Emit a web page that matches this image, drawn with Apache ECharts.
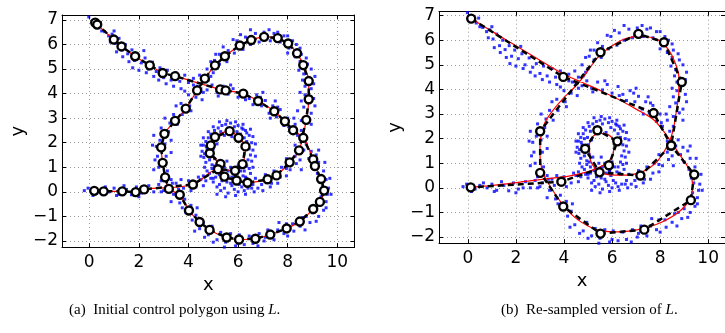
<!DOCTYPE html>
<html>
<head>
<meta charset="utf-8">
<script src="https://cdn.jsdelivr.net/npm/echarts@6/dist/echarts.min.js"></script>
<style>
html,body{margin:0;padding:0;background:#fff;}
#chart{width:725px;height:333px;}
</style>
</head>
<body>
<div id="chart"></div>
<script>
// ---------- data ----------
const xTicks = [0, 2, 4, 6, 8, 10];
const yTicks = [-2, -1, 0, 1, 2, 3, 4, 5, 6, 7];

// noisy samples L (shared by both panels)
const samplesL = [
[-0.02,7.12],[0.12,6.95],[0.35,6.7],[0.45,6.9],[0.62,6.52],[0.78,6.35],[0.92,6.42],[1.05,6.05],[1.2,6.25],[1.32,5.78],
[1.45,6.0],[1.55,5.62],[1.72,5.78],[1.82,5.35],[1.95,5.6],[2.1,5.25],[2.25,5.45],[2.38,5.0],[2.55,5.28],[2.7,4.9],
[2.85,5.05],[3.0,4.65],[3.15,4.95],[3.3,4.55],[3.5,4.85],[3.65,4.5],[3.85,4.75],[4.0,4.45],[4.2,4.62],[4.35,4.3],
[4.6,4.5],[4.75,4.15],[4.95,4.35],[5.15,4.05],[5.4,4.3],[5.6,3.98],[5.8,4.2],[6.0,3.85],[6.25,4.12],[6.45,3.8],
[6.6,3.55],[6.75,3.95],[6.95,3.5],[7.1,3.72],[7.25,3.2],[7.4,3.5],[7.55,3.05],[7.7,3.35],[7.85,2.7],[8.0,3.0],
[8.1,2.5],[8.3,2.75],[8.4,2.3],[8.55,2.5],[8.75,1.95],[8.95,1.65],[8.85,1.35],[9.15,1.5],[9.0,1.05],[9.25,1.2],
[9.2,0.75],[9.45,0.85],[9.3,0.4],[9.55,0.5],[9.4,0.2],[9.65,0.15],[9.6,-0.1],[9.35,-0.2],[9.55,-0.4],[9.2,-0.55],
[9.45,-0.75],[9.0,-0.85],[9.25,-1.0],[8.75,-1.0],[8.9,-1.25],[8.5,-1.4],[8.6,-1.05],[8.2,-1.3],[8.25,-1.6],[7.95,-1.3],
[7.85,-1.7],[7.6,-1.55],[7.45,-1.95],[7.2,-1.55],[7.05,-2.0],[6.85,-1.7],[6.6,-2.1],[6.45,-1.8],[6.25,-2.15],[6.05,-1.75],
[5.9,-2.2],[5.7,-1.7],[5.5,-2.05],[5.3,-1.65],[5.15,-1.95],[4.95,-1.4],[4.8,-1.75],[4.6,-1.25],[4.45,-1.5],[4.3,-0.95],
[4.15,-1.15],[4.1,-0.55],[3.9,-0.85],[3.85,-0.3],[3.65,-0.45],[3.6,0.1],[3.4,-0.1],[3.35,0.35],[3.1,0.2],[3.15,0.85],
[2.9,0.45],[3.1,1.45],[2.8,1.0],[3.05,1.95],[2.75,1.45],[2.85,2.1],[2.7,1.85],[3.2,2.45],[2.9,2.6],[3.25,2.8],
[3.55,2.75],[3.4,3.15],[3.75,3.15],[3.7,3.6],[4.05,3.5],[4.0,3.95],[4.3,3.85],[4.2,4.35],[4.5,4.2],[4.45,4.75],
[4.8,4.55],[4.75,5.0],[5.0,4.85],[4.9,5.3],[5.25,5.2],[5.25,5.6],[5.55,5.3],[5.6,5.75],[5.85,5.65],[5.95,6.15],
[6.2,5.8],[6.3,6.3],[6.5,6.0],[6.7,6.45],[6.85,6.1],[7.05,6.5],[7.3,6.15],[7.45,6.45],[7.7,6.1],[7.85,6.35],
[8.05,5.85],[8.2,6.15],[8.3,5.5],[8.5,5.85],[8.5,5.3],[8.75,5.45],[8.65,4.8],[8.95,5.0],[8.7,4.3],[9.05,4.4],
[8.7,3.95],[9.05,3.8],[8.65,3.45],[8.95,3.2],[8.55,2.9],[8.95,2.75],[8.3,1.9],[8.65,1.7],[8.3,1.45],[8.35,1.15],
[7.95,1.35],[7.95,0.95],[7.75,1.0],[7.7,0.6],[7.45,0.85],[7.35,0.35],[7.1,0.7],[6.95,0.3],[6.7,0.55],[6.55,0.15],
[6.3,0.6],[6.15,0.2],[6.0,0.0],[5.9,0.65],[5.75,0.25],[5.55,0.4],[5.6,0.85],[5.35,0.45],[5.25,0.7],[5.05,1.05],
[5.1,0.6],[-0.2,0.05],[-0.05,0.15],[0.3,-0.05],[0.5,0.1],[0.8,0.0],[1.0,0.15],[1.2,-0.1],[1.5,0.1],[1.7,-0.12],
[1.9,0.2],[2.1,-0.05],[2.4,0.25],[2.6,0.0],[2.8,0.3],[3.0,0.05],[3.5,0.35],[3.8,0.15],[4.0,0.45],[4.3,0.2],
[4.5,0.5],[4.7,0.45],[4.85,0.75],[5.0,0.55],[4.55,1.65],[4.6,1.9],[4.62,1.4],[4.7,2.05],[4.7,1.2],[4.75,1.75],
[4.78,1.5],[4.8,2.2],[4.85,1.3],[4.9,2.35],[4.95,1.1],[4.98,2.05],[5.0,1.75],[5.05,2.5],[5.1,2.3],[5.15,1.95],
[5.2,2.6],[5.3,2.45],[5.35,2.7],[5.45,2.3],[5.5,2.75],[5.6,2.6],[5.7,2.8],[5.75,2.25],[5.85,2.65],[5.95,2.45],
[6.0,2.7],[6.1,2.35],[6.15,2.6],[6.25,2.2],[6.3,2.5],[6.35,2.05],[6.45,2.3],[6.45,1.75],[6.55,2.0],[6.5,1.5],
[6.6,1.7],[6.4,1.3],[6.55,1.25],[6.35,1.05],[6.45,0.95],[6.1,0.85],[6.2,0.65],[5.9,0.7],[6.0,1.05],[5.7,1.0],
[5.55,1.25],[5.75,0.6],[5.45,1.0],[5.3,0.8],[5.2,1.25],[5.1,0.85],[5.05,1.35],[4.95,0.95],[5.0,0.4],[5.15,0.2],
[5.3,0.05],[5.45,0.15],[5.6,-0.05],[5.7,0.35],[5.85,0.1],[6.05,0.3],[6.25,0.05],[6.4,0.15],[6.6,0.3],[6.35,0.55],
[5.55,0.55],[5.25,0.3],[4.9,0.55],[5.95,0.5],[6.8,0.15],[4.65,1.55],[4.72,1.85],[4.85,2.0],[6.35,2.4],[6.2,2.55],
[0.5,6.55],[0.85,6.1],[1.1,5.7],[1.35,5.5],[1.6,5.3],[1.75,5.05],[2.0,4.95],[2.3,4.85],[2.6,4.7],[2.8,4.55],
[3.1,4.4],[3.4,4.3],[3.7,4.2],[2.2,5.75],[1.0,6.55],[5.1,5.6],[5.4,5.9],[5.8,6.2],[6.1,6.4],[6.5,6.6],
[6.95,6.25],[7.25,6.6],[7.6,6.5],[8.0,6.35],[8.35,6.0],[8.0,5.65],[8.55,5.6],[8.8,5.2],[8.45,4.95],[9.1,4.7],
[8.6,4.55],[8.95,4.2],[8.5,4.05],[9.1,3.5],[8.55,3.7],[8.8,3.05],[8.4,3.3],[5.2,3.9],[5.7,4.35],[6.3,3.75],
[6.9,3.85],[7.3,3.0],[7.6,3.45],[7.0,4.05],[7.5,3.7],[8.05,2.65],[8.25,3.0],[9.25,1.7],[9.5,1.2],[9.7,0.55],
[9.75,-0.1],[9.55,-0.65],[9.15,-1.2],[8.7,-1.55],[8.0,-1.8],[7.65,-1.25],[7.1,-1.85],[6.8,-2.2],[6.4,-2.3],[6.0,-2.1],
[5.45,-2.25],[5.0,-2.05],[4.65,-1.85],[4.25,-1.6],[4.35,-0.65],[3.75,-0.65],[3.3,-0.4],[2.6,0.9],[2.65,1.3],[2.55,1.9],
[2.6,2.3],[3.3,1.6],[3.3,2.1],[3.05,3.0],[3.5,3.5],[3.85,4.1],[4.1,3.3],[4.55,3.75],[4.6,4.05],[4.9,4.7],
[5.05,5.35],[4.5,1.9],[4.5,1.45],[4.6,2.2],[4.65,1.0],[4.8,2.45],[5.0,2.65],[5.25,2.85],[5.55,2.9],[5.9,2.85],
[6.2,2.75],[6.5,2.55],[6.6,2.25],[6.7,1.95],[6.7,1.45],[6.6,1.0],[6.5,0.75],[6.25,0.85],[5.85,0.9],[4.75,0.85],
[4.6,0.65],[5.15,-0.1],[5.5,-0.2],[5.9,-0.15],[6.3,-0.1],[6.65,0.0],[7.0,0.05],[7.3,0.2],[7.6,0.35],[7.95,0.65],
[8.1,0.9],[8.5,1.3],[8.55,0.9],[0.15,-0.15],[0.65,0.2],[1.1,-0.15],[1.4,0.25],[2.0,-0.2],[2.3,0.0],[2.9,0.0],
[3.3,0.5],[3.7,0.5],[4.1,0.05],[4.4,0.6],[4.6,0.25]
];

// (a) initial control polygon
const ctrlA = [
[0.24,6.89],[0.32,6.81],[0.99,6.20],[1.30,5.92],[1.85,5.52],[2.44,5.15],[2.96,4.84],[3.46,4.71],[5.28,4.17],[5.50,4.13],
[6.21,4.00],[6.81,3.70],[7.46,3.28],[7.89,2.87],[8.22,2.51],[8.63,2.20],[9.03,1.32],[9.10,1.05],[9.35,0.52],[9.47,0.05],
[9.30,-0.41],[9.03,-0.70],[8.49,-1.21],[7.96,-1.49],[7.30,-1.74],[6.70,-1.91],[6.04,-1.94],[5.54,-1.86],[4.85,-1.55],[4.45,-1.23],
[4.02,-0.76],[3.65,-0.12],[3.21,0.12],[3.06,0.59],[2.96,1.18],[2.90,1.81],[3.03,2.36],[3.46,2.89],[3.89,3.39],[4.35,4.13],
[4.66,4.61],[5.07,5.15],[5.47,5.52],[6.07,5.96],[6.53,6.18],[7.05,6.31],[7.60,6.26],[8.02,6.04],[8.38,5.64],[8.63,5.16],
[8.85,4.51],[8.85,3.77],[8.75,2.93],[8.46,1.69],[8.08,1.20],[7.55,0.67],[7.19,0.51],[6.38,0.37],[5.94,0.46],[5.45,0.62],
[5.29,1.14],[4.86,1.57],[4.90,1.89],[5.07,2.23],[5.66,2.47],[6.02,2.20],[6.30,1.85],[6.18,1.13],[5.88,0.86],[5.19,0.92],
[4.18,0.30],[2.21,0.10],[1.87,-0.01],[1.33,0.02],[0.58,0.02],[0.20,0.04]
];

// (b) re-sampled control polygon
const ctrlB = [
[0.14,6.88],[3.97,4.51],[7.73,3.04],[8.46,1.72],[9.42,0.54],[9.28,-0.50],[7.34,-1.70],[5.52,-1.86],[3.97,-0.76],[3.01,0.61],
[3.01,2.30],[5.52,5.51],[7.10,6.26],[8.16,5.92],[8.90,4.30],[8.46,1.72],[7.18,0.50],[5.48,0.63],[4.88,1.59],[5.39,2.34],
[6.22,1.89],[5.87,0.92],[3.89,0.25],[0.12,0.02]
];

// (b) fitted curve
const curveB = [
[0.14,6.88],[1.0,6.36],[2.0,5.78],[3.0,5.19],[4.0,4.62],[4.77,4.28],[5.5,3.96],[6.3,3.58],[7.0,3.20],[7.73,2.77],
[8.15,2.30],[8.45,1.88],[8.85,1.30],[9.22,0.72],[9.35,0.10],[9.2,-0.52],[8.75,-1.0],[8.1,-1.38],[7.51,-1.60],[6.9,-1.73],
[6.28,-1.79],[5.6,-1.76],[5.0,-1.55],[4.45,-1.2],[3.95,-0.68],[3.5,-0.05],[3.2,0.45],[3.04,0.94],[3.0,1.5],[3.02,1.95],
[3.18,2.6],[3.5,3.1],[3.95,3.62],[4.41,4.06],[4.82,4.52],[5.15,4.98],[5.5,5.40],[6.14,5.86],[6.6,6.08],[7.10,6.16],
[7.6,6.12],[7.98,5.98],[8.35,5.62],[8.62,5.1],[8.78,4.5],[8.78,3.9],[8.68,3.15],[8.55,2.4],[8.36,1.82],[7.92,1.12],
[7.5,0.78],[7.10,0.60],[6.6,0.52],[6.14,0.52],[5.7,0.57],[5.32,0.78],[5.08,1.22],[5.06,1.75],[5.22,2.1],[5.5,2.22],
[5.85,2.16],[6.07,1.85],[6.05,1.35],[5.8,1.03],[5.4,0.80],[4.93,0.64],[4.2,0.48],[3.29,0.37],[2.4,0.26],[1.5,0.15],
[0.8,0.08],[0.12,0.02]
];

// ---------- chart ----------
const chart = echarts.init(document.getElementById('chart'), null, {renderer: 'canvas'});
const tickFont = {fontFamily: 'DejaVu Sans', fontSize: 17, color: '#000'};
const gridLine = {show: true, lineStyle: {color: '#9a9a9a', type: [1, 3], width: 1}};

function bottomX(gi, min) {
  return {
    gridIndex: gi, type: 'value', min: min, max: 10.7, position: 'bottom',
    name: 'x', nameLocation: 'middle', nameGap: 26,
    nameTextStyle: {fontFamily: 'DejaVu Sans', fontSize: 18, color: '#000'},
    axisLine: {show: true, onZero: false, lineStyle: {color: '#000', width: 1}},
    axisTick: {show: true, inside: true, length: 4, customValues: xTicks, lineStyle: {color: '#000'}},
    axisLabel: {show: true, margin: 7, customValues: xTicks, ...tickFont},
    splitLine: gridLine
  };
}
function topX(gi, min) {
  return {
    gridIndex: gi, type: 'value', min: min, max: 10.7, position: 'top',
    axisLine: {show: true, onZero: false, lineStyle: {color: '#000', width: 1}},
    axisTick: {show: true, inside: true, length: 4, customValues: xTicks, lineStyle: {color: '#000'}},
    axisLabel: {show: false}, splitLine: {show: false}
  };
}
function leftY(gi, max) {
  return {
    gridIndex: gi, type: 'value', min: -2.25, max: max, position: 'left',
    name: 'y', nameLocation: 'middle', nameGap: 35, nameRotate: 90,
    nameTextStyle: {fontFamily: 'DejaVu Sans', fontSize: 18, color: '#000'},
    axisLine: {show: true, onZero: false, lineStyle: {color: '#000', width: 1}},
    axisTick: {show: true, inside: true, length: 4, customValues: yTicks, lineStyle: {color: '#000'}},
    axisLabel: {show: true, margin: 4, customValues: yTicks, ...tickFont,
      formatter: v => (v < 0 ? '\u2212' + Math.abs(v) : String(v))},
    splitLine: gridLine
  };
}
function rightY(gi, max) {
  return {
    gridIndex: gi, type: 'value', min: -2.25, max: max, position: 'right',
    axisLine: {show: true, onZero: false, lineStyle: {color: '#000', width: 1}},
    axisTick: {show: true, inside: true, length: 4, customValues: yTicks, lineStyle: {color: '#000'}},
    axisLabel: {show: false}, splitLine: {show: false}
  };
}

function scatterS(xi, yi) {
  return {type: 'scatter', xAxisIndex: xi, yAxisIndex: yi, data: samplesL,
    symbol: 'rect', symbolSize: 3, itemStyle: {color: '#0000ff'}, silent: true, z: 2};
}
function redS(xi, yi, data) {
  return {type: 'line', xAxisIndex: xi, yAxisIndex: yi, data: data, smooth: 0.35,
    showSymbol: false, lineStyle: {color: '#ff0000', width: 1.2}, silent: true, z: 3};
}
function ctrlS(xi, yi, data) {
  return {type: 'line', xAxisIndex: xi, yAxisIndex: yi, data: data,
    symbol: 'circle', symbolSize: 8, showSymbol: true,
    itemStyle: {color: '#ffffff', borderColor: '#000', borderWidth: 2.4},
    lineStyle: {color: '#000', width: 2.5, type: [6, 4]}, silent: true, z: 4};
}

const capStyle = {fontFamily: 'Liberation Serif', fontSize: 15, fontWeight: 'normal', color: '#000',
  rich: {i: {fontFamily: 'Liberation Serif', fontSize: 15, fontStyle: 'italic', color: '#000'}}};

const option = {
  animation: false,
  backgroundColor: '#fff',
  grid: [
    {left: 62, top: 15, width: 292.6, height: 232.1},
    {left: 439, top: 11.7, width: 290.4, height: 231.5}
  ],
  xAxis: [bottomX(0, -1.1), bottomX(1, -1.2), topX(0, -1.1), topX(1, -1.2)],
  yAxis: [leftY(0, 7.2), leftY(1, 7.16), rightY(0, 7.2), rightY(1, 7.16)],
  title: [
    {text: '(a)  Initial control polygon using {i|L}.', left: 64, top: 298, textStyle: capStyle},
    {text: '(b)  Re-sampled version of {i|L}.', left: 496, top: 298, textStyle: capStyle}
  ],
  series: [
    scatterS(0, 0), redS(0, 0, ctrlA), ctrlS(0, 0, ctrlA),
    scatterS(1, 1), redS(1, 1, curveB), ctrlS(1, 1, ctrlB)
  ]
};
chart.setOption(option);
</script>
</body>
</html>
